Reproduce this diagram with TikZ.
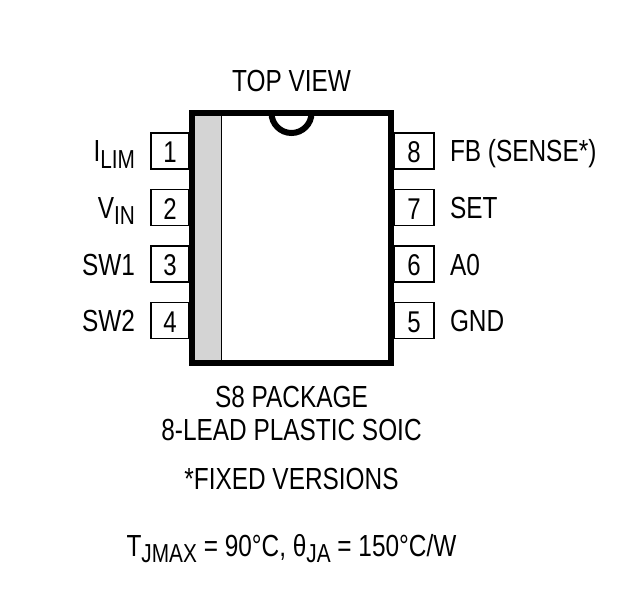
\documentclass[tikz,border=0pt]{standalone}
\usepackage{fontspec}
\setmainfont[FakeStretch=0.8]{Liberation Sans}
\usetikzlibrary{positioning}

\tikzset{
  chip/.style={draw, line width=6pt, minimum width=199pt, minimum height=250pt, inner sep=0pt},
  pinbox/.style={draw, line width=1.5pt, minimum width=40pt, minimum height=36pt, inner sep=0pt, outer sep=0pt, text height=23pt, text depth=0pt, font=\fontsize{30}{33}\selectfont},
  pinlabel/.style={inner sep=0pt, outer sep=0pt, text height=22pt, text depth=0pt, font=\fontsize{30.5}{33}\selectfont},
  caption/.style={inner sep=0pt, outer sep=0pt, align=center, font=\fontsize{30.5}{33}\selectfont},
  band/.style={fill=black!17, draw=none, inner sep=0pt, minimum width=26pt, minimum height=244pt}
}
\newcommand{\subs}[1]{\raisebox{-6pt}{\fontsize{26}{30}\selectfont #1}}

\begin{document}
\begin{tikzpicture}[x=1pt, y=-1pt]
  \useasboundingbox (0,0) rectangle (625,610);

  % Define nodes
  \node[chip]                                             (chip) at (291.5,238) {};
  \node[band, anchor=north west]                          (band) at (195,116) {};
  \node[caption, above=18pt of chip]                      (top) {TOP VIEW};

  \node[pinbox, minimum width=38pt, left=0pt of chip.north west, yshift=-41pt] (pin1) {1};
  \node[pinbox, minimum width=38pt, below=20.5pt of pin1]    (pin2) {2};
  \node[pinbox, minimum width=38pt, below=20.5pt of pin2]    (pin3) {3};
  \node[pinbox, minimum width=38pt, below=20.5pt of pin3]    (pin4) {4};
  \node[pinbox, right=0pt of chip.north east, yshift=-41pt]  (pin8) {8};
  \node[pinbox, below=20.5pt of pin8]                        (pin7) {7};
  \node[pinbox, below=20.5pt of pin7]                        (pin6) {6};
  \node[pinbox, below=20.5pt of pin6]                        (pin5) {5};

  \node[pinlabel, left=16pt of pin1]  (ilim) {I\subs{LIM}};
  \node[pinlabel, left=16pt of pin2]  (vin)  {V\subs{IN}};
  \node[pinlabel, left=16pt of pin3]  (sw1)  {SW1};
  \node[pinlabel, left=16pt of pin4]  (sw2)  {SW2};
  \node[pinlabel, right=16pt of pin8] (fb)   {FB (SENSE*)};
  \node[pinlabel, right=16pt of pin7] (set)  {SET};
  \node[pinlabel, right=16pt of pin6] (azero) {A0};
  \node[pinlabel, right=16pt of pin5] (gnd)  {GND};

  \node[caption, below=20pt of chip]   (pkg)   {S8 PACKAGE\\8-LEAD PLASTIC SOIC};
  \node[caption, below=28pt of pkg]    (fixed) {*FIXED VERSIONS};
  \node[caption, below=44pt of fixed]  (temp)  {T\subs{JMAX} = 90°C, θ\subs{JA} = 150°C/W};

  % Divider and notch
  \draw[line width=1.5pt] (band.north east) -- (band.south east);
  \draw[line width=6pt] (chip.north) ++(-20,3) arc[start angle=180, end angle=360, x radius=20pt, y radius=20pt];

\end{tikzpicture}
\end{document}
